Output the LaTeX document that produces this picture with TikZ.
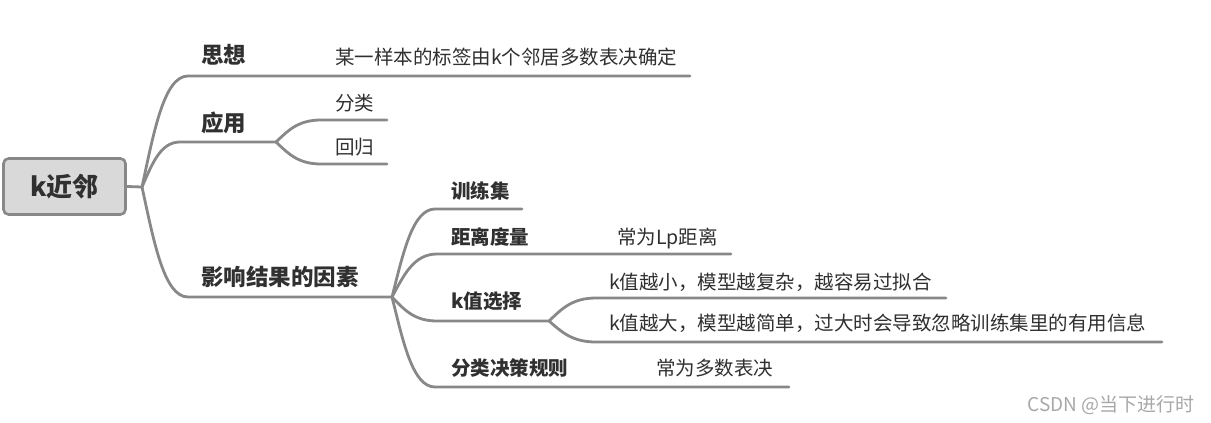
\documentclass[tikz,border=0pt]{standalone}
\usepackage{fontspec}
\setmainfont{Noto Sans CJK SC}
\usetikzlibrary{calc}
\definecolor{lineg}{HTML}{888888}
\definecolor{boxg}{HTML}{D9D9D9}
\definecolor{txt}{HTML}{303030}
\definecolor{wm}{HTML}{A8A8A8}
\begin{document}
\begin{tikzpicture}[x=1pt,y=-1pt,
  conn/.style={draw=lineg, line width=2.8pt, line cap=round},
  branch/.style={to path={let \p1=(\tikztostart), \p2=(\tikztotarget) in
     .. controls ({\x1+0.26*(\x2-\x1)},{\y1+0.5*(\y2-\y1)}) and ({\x1+0.48*(\x2-\x1)},{\y2}) .. (\tikztotarget)}},
  rootbox/.style={draw=lineg, line width=2.6pt, fill=boxg, rounded corners=5pt,
     minimum width=122pt, minimum height=56pt, inner sep=0pt,
     font=\fontsize{26}{26}\selectfont\bfseries, text=txt},
  lvlone/.style={anchor=base west, inner sep=0pt, font=\fontsize{22.5}{22.5}\selectfont\bfseries, text=txt},
  lvltwo/.style={anchor=base west, inner sep=0pt, font=\fontsize{19.5}{19.5}\selectfont\bfseries, text=txt},
  leaf/.style={anchor=base west, inner sep=0pt, font=\fontsize{19.5}{19.5}\selectfont, text=txt},
  wmark/.style={anchor=east, inner sep=0pt, font=\fontsize{19}{19}\selectfont, text=wm}
]
\fill[white] (0,0) rectangle (1211,423);
\useasboundingbox (0,0) rectangle (1211,423);

% root
\node[rootbox] (root) at (64.5,186.5) {k近邻};
\coordinate (r) at (142,187);

% level-1 line points
\coordinate (a1) at (188,76);  \coordinate (a1e) at (690,76);
\coordinate (a2) at (180,142); \coordinate (f2) at (276,142);
\coordinate (a3) at (188,297); \coordinate (f3) at (392,297);

% 应用 children
\coordinate (b1) at (321,120); \coordinate (b1e) at (387,120);
\coordinate (b2) at (321,164); \coordinate (b2e) at (387,164);

% 影响 children
\coordinate (c1) at (435,209); \coordinate (c1e) at (522,209);
\coordinate (c2) at (437,254); \coordinate (c2e) at (731,254);
\coordinate (c3) at (437,321); \coordinate (f4) at (549,321);
\coordinate (c4) at (435,387); \coordinate (c4e) at (789,387);

% k值选择 children
\coordinate (d1) at (596,298); \coordinate (d1e) at (946,298);
\coordinate (d2) at (596,342); \coordinate (d2e) at (1162,342);

% connectors
\draw[conn] (root.east) -- (r);
\draw[conn] (r) to[branch] (a1) -- (a1e);
\draw[conn] (r) to[branch] (a2) -- (f2);
\draw[conn] (r) to[branch] (a3) -- (f3);
\draw[conn] (f2) to[branch] (b1) -- (b1e);
\draw[conn] (f2) to[branch] (b2) -- (b2e);
\draw[conn] (f3) to[branch] (c1) -- (c1e);
\draw[conn] (f3) to[branch] (c2) -- (c2e);
\draw[conn] (f3) to[branch] (c3) -- (f4);
\draw[conn] (f3) to[branch] (c4) -- (c4e);
\draw[conn] (f4) to[branch] (d1) -- (d1e);
\draw[conn] (f4) to[branch] (d2) -- (d2e);

% texts
\node[lvlone] (t1) at (201,63.3) {思想};
\node[leaf] (t1a) at (335,64.2) {某一样本的标签由k个邻居多数表决确定};
\node[lvlone] (t2) at (201,131.3) {应用};
\node[leaf] (t2a) at (335,110.2) {分类};
\node[leaf] (t2b) at (335,154.2) {回归};
\node[lvlone] (t3) at (201,285.3) {影响结果的因素};
\node[lvltwo] (t3a) at (451,198.2) {训练集};
\node[lvltwo] (t3b) at (451,244.2) {距离度量};
\node[leaf] (t3ba) at (617,244.2) {常为Lp距离};
\node[lvltwo] (t3c) at (451,308.2) {k值选择};
\node[leaf] (t3ca) at (609,289.2) {k值越小，模型越复杂，越容易过拟合};
\node[leaf] (t3cb) at (609,330.2) {k值越大，模型越简单，过大时会导致忽略训练集里的有用信息};
\node[lvltwo] (t3d) at (451,375.2) {分类决策规则};
\node[leaf] (t3da) at (656,375.2) {常为多数表决};

\node[wmark] (wmk) at (1195,405.5) {CSDN @当下进行时};
\end{tikzpicture}
\end{document}
